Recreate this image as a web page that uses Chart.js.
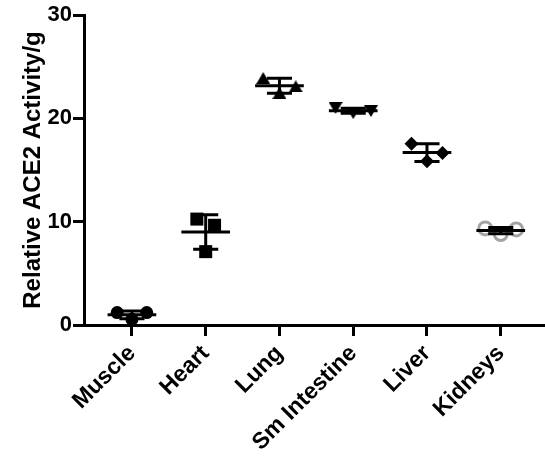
<!DOCTYPE html>
<html>
<head>
<meta charset="utf-8">
<script src="https://cdn.jsdelivr.net/npm/chart.js@4"></script>
<style>
  html, body { margin: 0; padding: 0; background: #fff; }
  #wrap { width: 545px; height: 459px; }
</style>
</head>
<body>
<div id="wrap"><canvas id="chart" width="545" height="459"></canvas></div>
<script>
const CATEGORIES = ['Muscle', 'Heart', 'Lung', 'Sm Intestine', 'Liver', 'Kidneys'];

// replicate values, ordered left / middle / right as plotted
const MUSCLE = [1.2, 0.55, 1.2];
const HEART = [10.25, 7.1, 9.65];
const LUNG = [23.9, 22.45, 23.1];
const SM_INTESTINE = [21.0, 20.5, 20.7];
const LIVER = [17.55, 15.85, 16.65];
const KIDNEYS = [9.35, 8.8, 9.25];

const Y_TICKS = [0, 10, 20, 30];

const GROUPS = [MUSCLE, HEART, LUNG, SM_INTESTINE, LIVER, KIDNEYS];
// horizontal spread of the replicates (category units)
const SPREAD = [0.2, 0.12, 0.22, 0.24, 0.21, 0.21];
const MEAN_HALF = 0.33;
const CAP_HALF = 0.17;
const FONT = 'Liberation Sans, Arial, sans-serif';

const mean = (a) => a.reduce((s, v) => s + v, 0) / a.length;
const sd = (a) => {
  const m = mean(a);
  return Math.sqrt(a.reduce((s, v) => s + (v - m) * (v - m), 0) / (a.length - 1));
};

function triangleMark(down) {
  const c = document.createElement('canvas');
  c.width = 14;
  c.height = 12;
  const g = c.getContext('2d');
  g.fillStyle = '#000';
  g.beginPath();
  if (down) {
    g.moveTo(0, 0); g.lineTo(14, 0); g.lineTo(7, 12);
  } else {
    g.moveTo(7, 0); g.lineTo(14, 12); g.lineTo(0, 12);
  }
  g.closePath();
  g.fill();
  return c;
}

const MARKS = [
  { pointStyle: 'circle', radius: 6.5, bg: '#000', border: '#000', bw: 0 },
  { pointStyle: 'rect', radius: 9.2, bg: '#000', border: '#000', bw: 0 },
  { pointStyle: triangleMark(false), radius: 7, bg: '#000', border: '#000', bw: 0 },
  { pointStyle: triangleMark(true), radius: 7, bg: '#000', border: '#000', bw: 0 },
  { pointStyle: 'rectRot', radius: 7, bg: '#000', border: '#000', bw: 0 },
  { pointStyle: 'circle', radius: 6.5, bg: 'rgba(255,255,255,0)', border: '#a3a3a3', bw: 3 },
];

const pointSets = GROUPS.map((vals, i) => ({
  label: CATEGORIES[i],
  data: vals.map((v, k) => ({ x: i + 1 + (k - 1) * SPREAD[i], y: v })),
  pointStyle: MARKS[i].pointStyle,
  pointRadius: MARKS[i].radius,
  pointBackgroundColor: MARKS[i].bg,
  pointBorderColor: MARKS[i].border,
  pointBorderWidth: MARKS[i].bw,
  showLine: false,
  order: 1,
}));

const meanData = [];
const errData = [];
GROUPS.forEach((vals, i) => {
  const x = i + 1, m = mean(vals), s = sd(vals);
  meanData.push({ x: x - MEAN_HALF, y: m }, { x: x + MEAN_HALF, y: m }, { x: x, y: null });
  errData.push({ x: x, y: m - s }, { x: x, y: m + s }, { x: x, y: null });
  errData.push({ x: x - CAP_HALF, y: m + s }, { x: x + CAP_HALF, y: m + s }, { x: x, y: null });
  errData.push({ x: x - CAP_HALF, y: m - s }, { x: x + CAP_HALF, y: m - s }, { x: x, y: null });
});

const lineSet = (data) => ({
  data,
  showLine: true,
  spanGaps: false,
  borderColor: '#000',
  borderWidth: 3,
  pointRadius: 0,
  borderCapStyle: 'butt',
  order: 0,
});

const axisGrid = {
  display: true,
  drawOnChartArea: false,
  drawTicks: true,
  tickLength: 11,
  tickWidth: 3,
  tickColor: '#000',
};

new Chart(document.getElementById('chart'), {
  type: 'scatter',
  data: { datasets: [...pointSets, lineSet(meanData), lineSet(errData)] },
  options: {
    responsive: false,
    animation: false,
    layout: { autoPadding: false, padding: { top: 15, right: 0, bottom: 0, left: 0 } },
    plugins: { legend: { display: false }, tooltip: { enabled: false } },
    scales: {
      x: {
        type: 'linear',
        min: 0.35,
        max: 6.6,
        afterBuildTicks: (s) => { s.ticks = CATEGORIES.map((_, i) => ({ value: i + 1 })); },
        afterFit: (s) => {
          s.height = 134;
          s.paddingLeft = 0;
          s.paddingRight = 0;
        },
        ticks: {
          autoSkip: false,
          maxRotation: 45,
          minRotation: 45,
          padding: 4,
          color: '#000',
          font: { family: FONT, size: 23, weight: 'bold' },
          callback: (v) => CATEGORIES[v - 1],
        },
        grid: axisGrid,
        border: { color: '#000', width: 3 },
      },
      y: {
        min: 0,
        max: 30,
        afterBuildTicks: (s) => { s.ticks = Y_TICKS.map((v) => ({ value: v })); },
        afterFit: (s) => { s.width = 84; },
        ticks: {
          padding: 1,
          color: '#000',
          font: { family: FONT, size: 22, weight: 'bold' },
        },
        title: {
          display: true,
          text: 'Relative ACE2 Activity/g',
          color: '#000',
          padding: { top: 19, bottom: 0 },
          font: { family: FONT, size: 24, weight: 'bold' },
        },
        grid: axisGrid,
        border: { color: '#000', width: 3 },
      },
    },
  },
});
</script>
</body>
</html>
